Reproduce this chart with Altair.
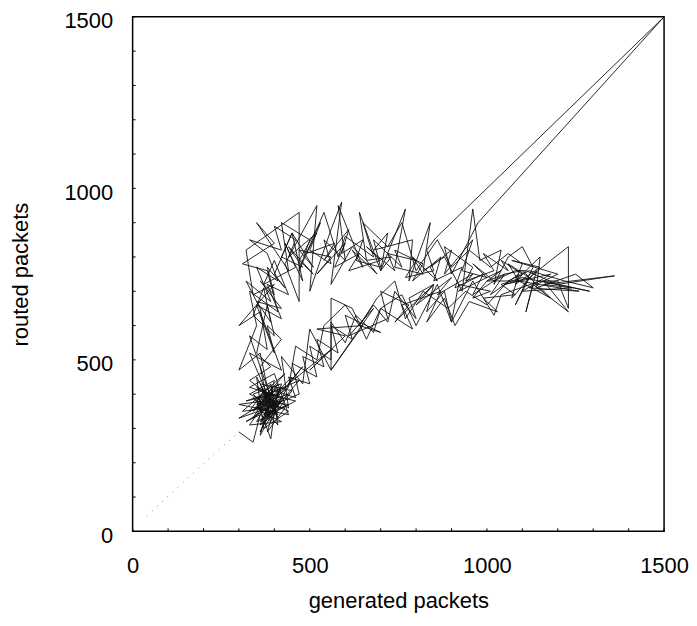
import altair as alt
import pandas as pd

# (generated packets, routed packets) samples, in time order
start_leg = [(40, 45), (150, 150), (230, 225), (300, 290)]

cluster_a = [(300,290),(340,260),(360,340),(320,320),(410,380),(370,310),(395,420),(350,370),(430,360),(380,290),
             (420,430),(340,400),(400,340),(450,410),(360,430),(390,360),(310,350),(430,460),(380,400),(460,380),
             (350,320),(410,430),(370,380),(300,370),(440,340),(400,460),(330,420),(420,390),(380,330),(470,440),
             (360,390),(400,380)]

lower_out_1 = [(480,480),(440,430),(560,530),(500,470),(600,570),(520,590),(650,600),(560,470),(680,650),(610,570),
               (720,620),(700,700),(780,660),(740,610),(850,720),(800,660),(900,740),(860,690),(960,750),(920,700),
               (1040,760),(1000,730),(1090,730),(1060,780),(1120,740),(1050,720),(1180,750),(1100,700),(1240,710),
               (1160,720),(1360,745),(1200,720),(1110,760)]

top_back_1 = [(1080,760),(1020,730),(960,780),(1000,740),(930,760),(960,850),(880,750),(900,820),(840,770),(860,730),
              (790,800),(820,750),(740,770),(770,940),(700,760),(730,800),(660,790),(690,750),(620,820),(650,770),
              (580,950),(600,790),(540,850),(560,780),(500,820),(530,900),(470,790),(510,750),(440,830),(480,770),
              (420,800),(450,870),(400,750),(430,710),(380,770)]

left_down_1 = [(400,690),(360,730),(420,650),(350,670),(390,610),(370,710),(340,630),(400,570),(380,660),(350,520),
               (390,480),(330,440),(380,400)]

cluster_b = [(350,360),(410,340),(370,410),(330,350),(400,380),(360,290),(420,420),(380,360),(340,390),(410,310),
             (390,430),(350,380),(440,370),(370,340),(400,400),(320,380),(430,420),(360,360),(390,320),(450,450),
             (380,380)]

up_across_2 = [(360,480),(420,560),(380,600),(400,520),(350,660),(420,620),(380,720),(440,690),(400,790),(370,720),
               (460,770),(430,840),(480,730),(450,870),(510,770),(470,820),(560,800),(520,750),(600,840),(570,770),
               (640,810),(610,760),(700,790),(660,830),(740,760),(720,810),(800,790),(770,740),(850,760),(830,820),
               (855,855),(1500,1500),(975,900),(900,750),(880,830),(960,770),(940,730),(1020,760),(990,810),
               (1060,760),(1040,790),(1100,750),(1080,720),(1150,770),(1070,790),(1200,750),(1120,710),(1260,700),
               (1090,730),(1180,680),(1100,760),(1050,750)]

lower_back_2 = [(1000,730),(960,680),(1010,700),(920,720),(900,610),(880,700),(830,640),(850,720),(780,680),(800,620),
                (740,700),(720,610),(680,660),(640,600),(700,580),(600,630),(620,560),(560,600),(580,520),(520,560),
                (540,480),(480,510),(500,430),(440,450),(460,390),(400,410)]

cluster_c = [(360,350),(420,320),(330,310),(390,400),(350,420),(410,370),(300,330),(380,380),(440,400),(360,320),
             (400,380),(380,380),(400,350),(370,400),(390,330),(355,390),(415,400),(375,345),(395,410),(345,360),
             (405,365),(365,420),(385,340),(420,380),(360,370),(390,390)]

up_across_3 = [(370,450),(330,570),(380,530),(360,650),(320,730),(390,670),(350,770),(410,730),(380,810),(330,850),
               (420,820),(400,890),(460,850),(440,800),(520,870),(490,810),(570,840),(540,790),(610,880),(590,810),
               (650,850),(630,790),(700,770),(680,850),(760,770),(740,820),(820,780),(790,730),(870,800),(850,730),
               (930,770),(910,710),(990,750),(960,690),(1050,750),(1010,690),(1090,750),(1070,680),(1140,760),
               (1110,640),(1130,720),(1230,640),(1160,730),(1290,700),(1100,740)]

lower_back_3 = [(1040,720),(1080,690),(990,680),(1030,640),(950,670),(910,600),(880,680),(830,610),(870,700),(760,660),
                (790,590),(700,650),(680,580),(630,630),(600,550),(560,610),(560,500),(500,540),(520,450),(450,490),
                (470,400),(400,370)]

up_across_4 = [(380,400),(330,520),(420,470),(360,640),(300,600),(400,720),(340,690),(320,820),(470,930),(470,670),
               (430,780),(520,950),(500,700),(560,880),(590,960),(560,720),(620,830),(660,790),(640,930),(700,760),
               (720,870),(680,820),(790,850),(780,730),(840,900),(820,760),(880,800),(930,700),(960,940),(980,790),
               (1040,820),(1020,720),(1060,800),(1100,830),(1130,770),(1080,660),(1120,740),(1180,790),(1230,830),
               (1230,650),(1200,730)]

lower_back_4 = [(1150,730),(1040,690),(1020,630),(960,730),(900,610),(860,720),(800,600),(760,690),(700,650),(660,560),
                (620,650),(560,680),(560,470),(500,590),(480,430),(420,510),(440,360),(380,400)]

up_across_5 = [(340,330),(420,390),(360,280),(400,440),(330,400),(440,350),(370,300),(350,450),(410,330),(380,420),
               (360,520),(300,470),(350,600),(330,700),(410,640),(380,760),(310,780),(400,840),(350,900),(440,760),
               (420,900),(500,850),(470,760),(540,930),(580,800),(600,860),(680,800),(650,900),(720,830),(760,900),
               (800,760),(860,850),(900,770),(950,820),(1010,770),(1060,810),(1100,780),(1080,730),(1150,800),
               (1140,710),(1250,750),(1300,710),(1220,730)]

lower_back_5 = [(1120,760),(1060,730),(1000,660),(940,700),(890,650),(820,700),(770,620),(740,730),(690,680),(640,600),
                (600,660),(540,600),(520,500),(460,540),(440,420),(390,380)]

final_leg = [(360,310),(420,360),(350,380),(390,270),(410,420),(340,350),(380,390)]

minor_ticks = list(range(0, 1501, 100))
label_values = [0, 500, 1000, 1500]

main_path = (cluster_a + lower_out_1 + top_back_1 + left_down_1 + cluster_b + up_across_2 +
             lower_back_2 + cluster_c + up_across_3 + lower_back_3 + up_across_4 + lower_back_4 +
             up_across_5 + lower_back_5 + final_leg)

df_main = pd.DataFrame(main_path, columns=["gen", "routed"])
df_main["i"] = range(len(df_main))
df_start = pd.DataFrame(start_leg, columns=["gen", "routed"])
df_start["i"] = range(len(df_start))
df_ticks = pd.DataFrame({"gen": minor_ticks, "routed": minor_ticks})

W, H = 533, 516
FONT = "Liberation Sans"
xscale = alt.Scale(domain=[0, 1500], nice=False, zero=False)
yscale = alt.Scale(domain=[0, 1500], nice=False, zero=False)

xaxis = alt.Axis(values=label_values, format="d", title="generated packets", grid=False, ticks=False, tickSize=0,
                 labelPadding=24, titlePadding=14, labelFontSize=22, titleFontSize=22,
                 labelFont=FONT, titleFont=FONT, labelColor="black", titleColor="black",
                 titleFontWeight="normal", domain=False, labelFlush=False)
yaxis = alt.Axis(values=label_values, format="d", title="routed packets", grid=False, ticks=False, tickSize=0,
                 labelPadding=20, labelOffset=4, titlePadding=31, labelFontSize=22, titleFontSize=22,
                 labelFont=FONT, titleFont=FONT, labelColor="black", titleColor="black",
                 titleFontWeight="normal", domain=False, labelFlush=False)

X = alt.X("gen:Q", scale=xscale, axis=xaxis)
Y = alt.Y("routed:Q", scale=yscale, axis=yaxis)

main = alt.Chart(df_main).mark_line(color="#111111", strokeWidth=0.9, clip=True).encode(
    x=X, y=Y, order="i:Q",
)

start = alt.Chart(df_start).mark_line(color="#666666", strokeWidth=0.8, strokeDash=[1, 6]).encode(
    x=X, y=Y, order="i:Q",
)

xt_minor = alt.Chart(df_ticks).mark_rule(color="black", strokeWidth=1).encode(
    x=X, y=alt.value(H), y2=alt.value(H - 3),
)
yt_minor = alt.Chart(df_ticks).mark_rule(color="black", strokeWidth=1).encode(
    y=Y, x=alt.value(0), x2=alt.value(3),
)

chart = alt.layer(start, main, xt_minor, yt_minor).properties(
    width=W, height=H,
    background="white",
    autosize=alt.AutoSizeParams(type="none"),
    padding={"left": 125, "top": 8, "right": 25, "bottom": 86},
).configure_view(stroke="black", strokeWidth=1.5)

chart.save("out.html", embed_options={"renderer": "svg", "actions": False})
